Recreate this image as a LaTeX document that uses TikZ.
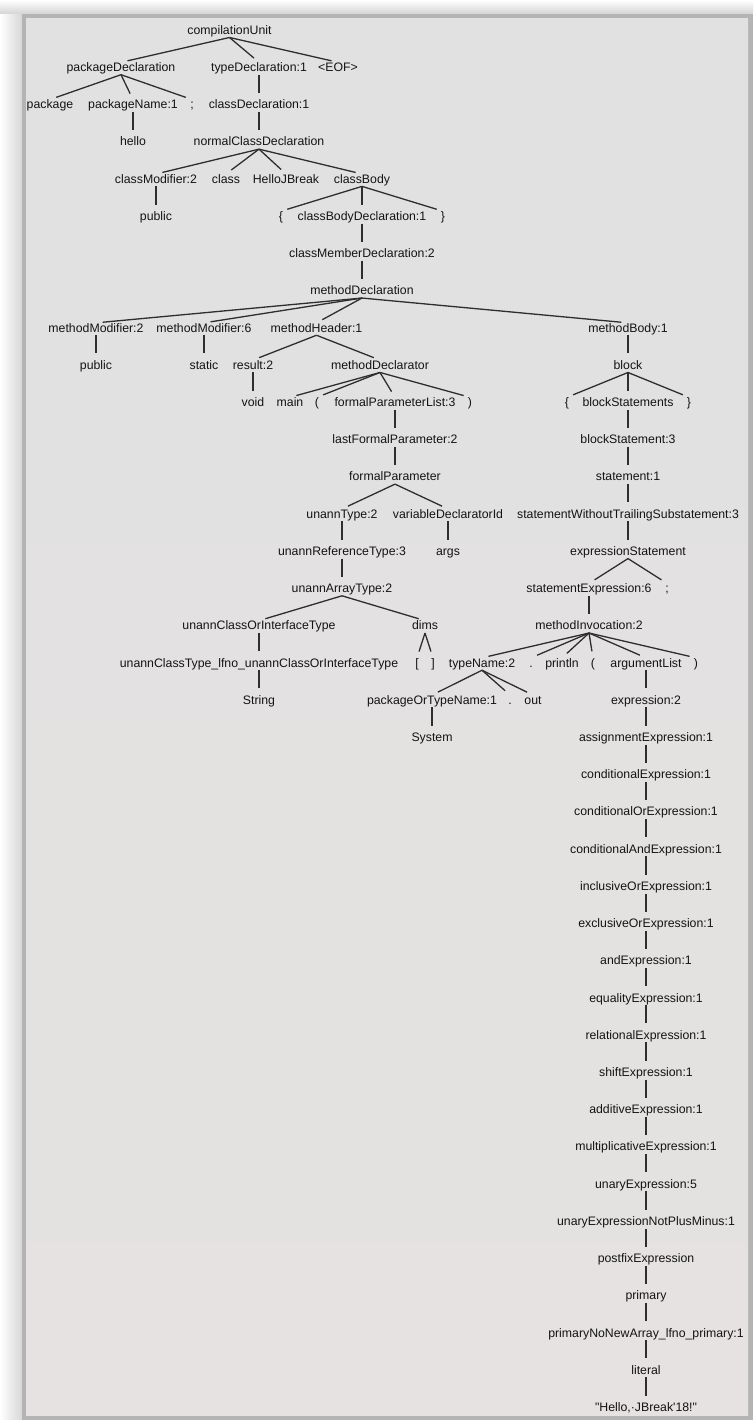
\documentclass[tikz,border=0pt]{standalone}
\usepackage{fontspec}
\newfontfamily\treefont{Liberation Sans}
\definecolor{panelTop}{HTML}{E1E1E2}
\definecolor{panelMid}{HTML}{EBE4E0}
\definecolor{panelBot}{HTML}{E5E2E1}
\definecolor{frameGray}{HTML}{B4B4B4}

\begin{document}
\begin{tikzpicture}[x=1pt,y=-1pt]
\useasboundingbox (0,0) rectangle (753,1420);
% frame and panel
\fill[white] (0,0) rectangle (753,1420);
\shade[left color=white, right color=black!16] (0,0) rectangle (22,1420);
\shade[top color=white, bottom color=black!17] (0,0) rectangle (753,14);
\fill[frameGray] (22,14) rectangle (753,1420);
\shade[top color=panelTop, middle color=panelMid, bottom color=panelBot] (26,19) rectangle (748,1415);

\begin{scope}[yshift=-34.3pt, y=-37.22pt]
\tikzstyle{every node} = [font=\treefont\fontsize{12.3}{14}\selectfont, text=black!92,
  anchor=base, inner sep=0pt, text height=9pt, text depth=3pt]
\tikzstyle{treeedge} = [draw=black!82, line width=1.3pt, shorten >=6.6pt]

\node (cu) at (229.5,0) {compilationUnit};
\node (pd) at (121,1) {packageDeclaration};
\node (td) at (259,1) {typeDeclaration:1};
\node (eof) at (338,1) {<EOF>};
\node (pk) at (50,2) {package};
\node (pn) at (133,2) {packageName:1};
\node (semi) at (192,2) {;};
\node (cd) at (259,2) {classDeclaration:1};
\node (hello) at (133,3) {hello};
\node (ncd) at (259,3) {normalClassDeclaration};
\node (cm) at (156,4) {classModifier:2};
\node (cls) at (226,4) {class};
\node (hjb) at (286,4) {HelloJBreak};
\node (cb) at (362,4) {classBody};
\node (pub1) at (156,5) {public};
\node (lb1) at (281,5) {\{};
\node (cbd) at (362,5) {classBodyDeclaration:1};
\node (rb1) at (443,5) {\}};
\node (cmd) at (362,6) {classMemberDeclaration:2};
\node (md) at (362,7) {methodDeclaration};
\node (mm2) at (96,8) {methodModifier:2};
\node (mm6) at (204,8) {methodModifier:6};
\node (mh) at (316.5,8) {methodHeader:1};
\node (mb) at (628,8) {methodBody:1};
\node (pub2) at (96,9) {public};
\node (stat) at (204,9) {static};
\node (res) at (253,9) {result:2};
\node (mdr) at (380,9) {methodDeclarator};
\node (blk) at (628,9) {block};
\node (void) at (253,10) {void};
\node (mainn) at (290,10) {main};
\node (lp1) at (317,10) {(};
\node (fpl) at (395,10) {formalParameterList:3};
\node (rp1) at (470,10) {)};
\node (lb2) at (567,10) {\{};
\node (bss) at (628,10) {blockStatements};
\node (rb2) at (689,10) {\}};
\node (lfp) at (395,11) {lastFormalParameter:2};
\node (bs) at (628,11) {blockStatement:3};
\node (fp) at (395,12) {formalParameter};
\node (st) at (628,12) {statement:1};
\node (ut) at (342,13) {unannType:2};
\node (vdi) at (448,13) {variableDeclaratorId};
\node (swts) at (628,13) {statementWithoutTrailingSubstatement:3};
\node (urt) at (342,14) {unannReferenceType:3};
\node (args) at (448,14) {args};
\node (es) at (628,14) {expressionStatement};
\node (uat) at (342,15) {unannArrayType:2};
\node (se) at (589,15) {statementExpression:6};
\node (semi2) at (667,15) {;};
\node (ucit) at (259,16) {unannClassOrInterfaceType};
\node (dims) at (425,16) {dims};
\node (mi) at (589,16) {methodInvocation:2};
\node (uct) at (259,17) {unannClassType\_lfno\_unannClassOrInterfaceType};
\node (lbk) at (417,17) {[};
\node (rbk) at (433,17) {]};
\node (tn) at (482,17) {typeName:2};
\node (dot1) at (531,17) {.};
\node (pln) at (562,17) {println};
\node (lp2) at (593,17) {(};
\node (al) at (646,17) {argumentList};
\node (rp2) at (696,17) {)};
\node (str) at (259,18) {String};
\node (potn) at (432,18) {packageOrTypeName:1};
\node (dot2) at (510,18) {.};
\node (out) at (533,18) {out};
\node (ex) at (646,18) {expression:2};
\node (sys) at (432,19) {System};

% long expression chain
\foreach \t [count=\i from 19] in {assignmentExpression:1, conditionalExpression:1,
  conditionalOrExpression:1, conditionalAndExpression:1, inclusiveOrExpression:1,
  exclusiveOrExpression:1, andExpression:1, equalityExpression:1, relationalExpression:1,
  shiftExpression:1, additiveExpression:1, multiplicativeExpression:1, unaryExpression:5,
  unaryExpressionNotPlusMinus:1, postfixExpression, primary,
  primaryNoNewArray\_lfno\_primary:1, literal, {"Hello,·JBreak'18!"}}
  \node (ch\i) at (646,\i) {\t};

\foreach \a/\b in {cu/pd, cu/td, cu/eof, pd/pk, pd/pn, pd/semi, td/cd, pn/hello, cd/ncd,
  ncd/cm, ncd/cls, ncd/hjb, ncd/cb, cm/pub1, cb/lb1, cb/cbd, cb/rb1, cbd/cmd, cmd/md,
  md/mm2, md/mm6, md/mh, md/mb, mm2/pub2, mm6/stat, mh/res, mh/mdr, mb/blk,
  res/void, mdr/mainn, mdr/lp1, mdr/fpl, mdr/rp1, blk/lb2, blk/bss, blk/rb2,
  fpl/lfp, bss/bs, lfp/fp, bs/st, fp/ut, fp/vdi, st/swts, ut/urt, vdi/args, swts/es,
  urt/uat, es/se, es/semi2, uat/ucit, uat/dims, se/mi, ucit/uct, dims/lbk, dims/rbk,
  mi/tn, mi/dot1, mi/pln, mi/lp2, mi/al, mi/rp2, uct/str, tn/potn, tn/dot2, tn/out,
  al/ex, potn/sys, ex/ch19}
  \draw[treeedge] (\a.south) -- (\b.north);
\foreach \i [evaluate=\i as \j using int(\i+1)] in {19,...,36}
  \draw[treeedge] (ch\i.south) -- (ch\j.north);
\end{scope}
\end{tikzpicture}
\end{document}
